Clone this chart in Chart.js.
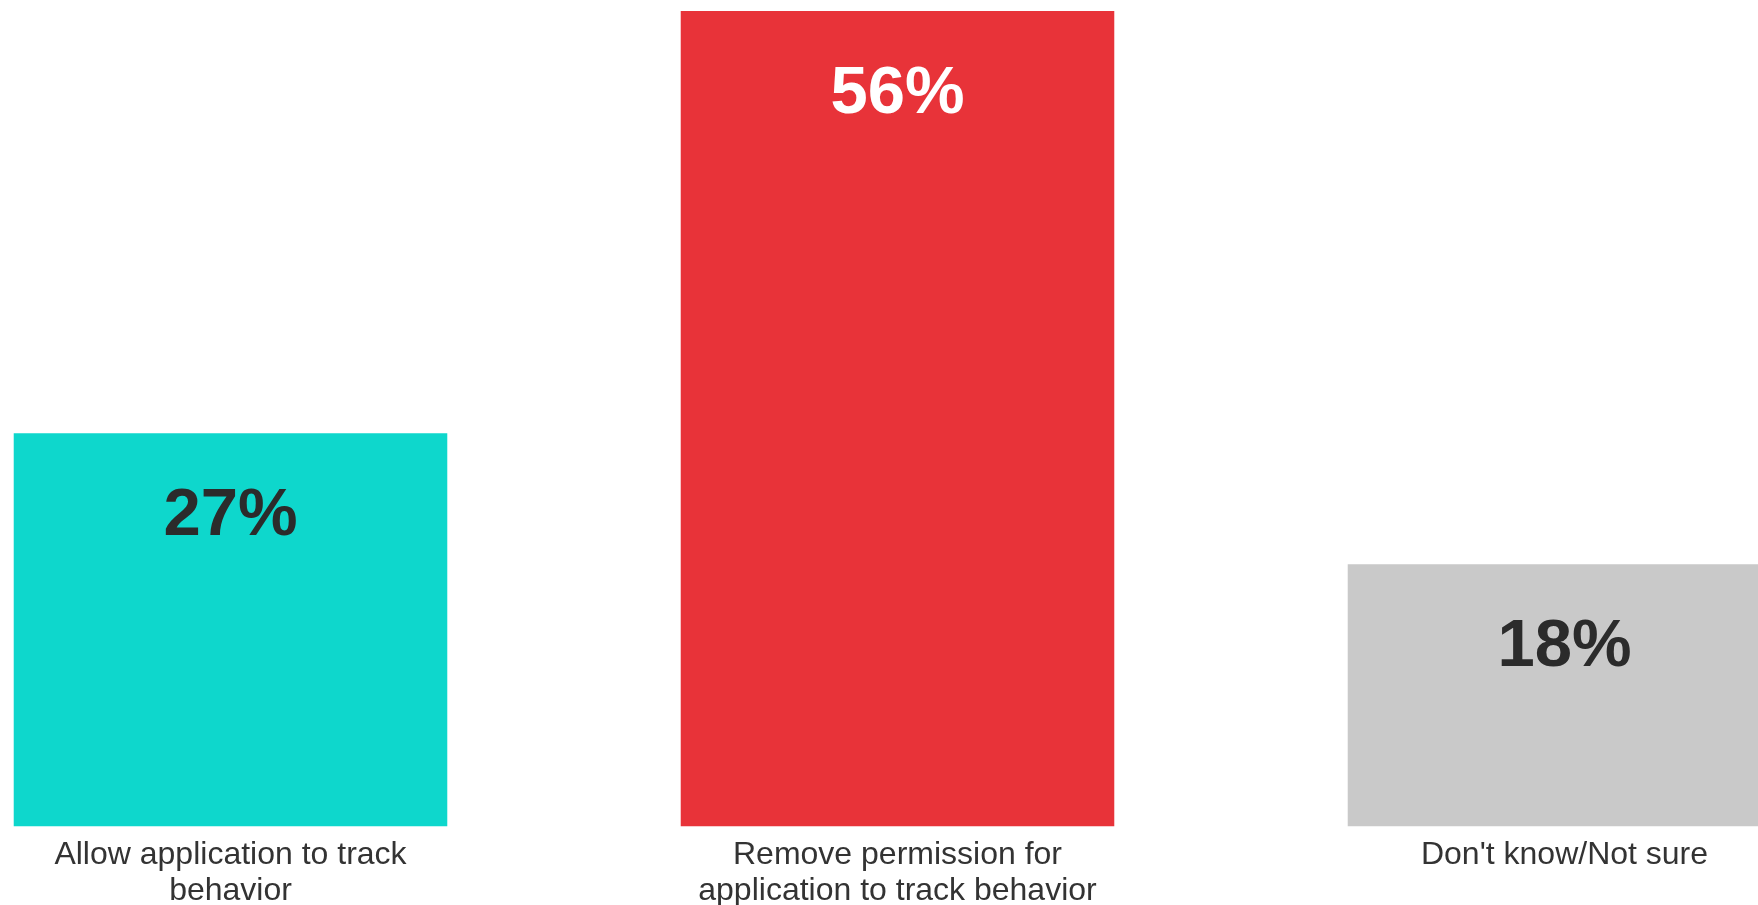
<!DOCTYPE html>
<html>
<head>
<meta charset="utf-8">
<script src="https://cdn.jsdelivr.net/npm/chart.js@4.4.1/dist/chart.umd.min.js"></script>
<style>
  html, body { margin: 0; padding: 0; background: #ffffff; overflow: hidden; width: 1758px; height: 905px; }
  #wrap { position: absolute; left: -103px; top: 0; width: 2001px; height: 920px; }
</style>
</head>
<body>
<div id="wrap"><canvas id="c"></canvas></div>
<script>
const categories = [
  ["Allow application to track", "behavior"],
  ["Remove permission for", "application to track behavior"],
  "Don't know/Not sure"
];
const values = [27, 56, 18];
const barColors = ["#0ED7CC", "#E83339", "#C9C9C9"];
const valueLabelColors = ["#2B2B2B", "#FFFFFF", "#2B2B2B"];

const valueLabelPlugin = {
  id: 'valueLabels',
  afterDatasetsDraw(chart) {
    const ctx = chart.ctx;
    const meta = chart.getDatasetMeta(0);
    meta.data.forEach((bar, i) => {
      ctx.save();
      ctx.font = 'bold 67px "Liberation Sans", Arial, sans-serif';
      ctx.fillStyle = valueLabelColors[i];
      ctx.textAlign = 'center';
      ctx.textBaseline = 'alphabetic';
      ctx.fillText(values[i] + '%', bar.x, bar.y + 102);
      ctx.restore();
    });
  }
};

new Chart(document.getElementById('c'), {
  type: 'bar',
  data: {
    labels: categories,
    datasets: [{
      data: values,
      backgroundColor: barColors,
      borderWidth: 0,
      barPercentage: 0.65,
      categoryPercentage: 1.0
    }]
  },
  options: {
    responsive: true,
    maintainAspectRatio: false,
    animation: false,
    layout: { padding: { top: 11, left: 0, right: 0, bottom: 0 } },
    plugins: { legend: { display: false }, tooltip: { enabled: false } },
    scales: {
      x: {
        grid: { display: false, drawTicks: false },
        border: { display: false },
        ticks: {
          color: '#333333',
          font: { family: '"Liberation Sans", Arial, sans-serif', size: 32, lineHeight: 1.15 },
          padding: 10,
          maxRotation: 0,
          autoSkip: false
        }
      },
      y: { display: false, min: 0, max: 56 }
    }
  },
  plugins: [valueLabelPlugin]
});
</script>
</body>
</html>
